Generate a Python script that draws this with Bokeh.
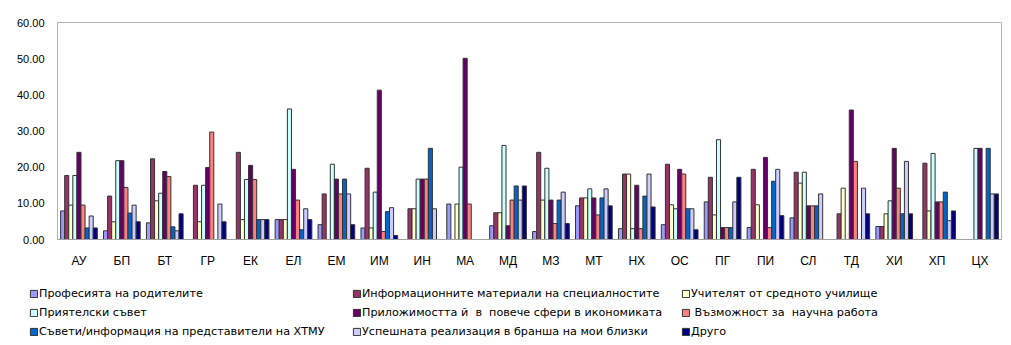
from bokeh.plotting import figure
from bokeh.layouts import column
from bokeh.models import (FactorRange, Range1d, ColumnDataSource, Legend, LegendItem,
                          NumeralTickFormatter, FixedTicker)
from bokeh.transform import dodge
from bokeh.embed import file_html
from bokeh.resources import INLINE

categories = ["АУ", "БП", "БТ", "ГР", "ЕК", "ЕЛ", "ЕМ", "ИМ", "ИН", "МА", "МД",
              "МЗ", "МТ", "НХ", "ОС", "ПГ", "ПИ", "СЛ", "ТД", "ХИ", "ХП", "ЦХ"]

series_names = [
    "Професията на родителите",
    "Информационните материали на специалностите",
    "Учителят от средното училище",
    "Приятелски съвет",
    "Приложимостта й  в  повече сфери в икономиката",
    " Възможност за  научна работа",
    "Съвети/информация на представители на ХТМУ",
    "Успешната реализация в бранша на мои близки",
    "Друго",
]

s_profesia = [7.9, 2.4, 4.6, 0, 0, 5.5, 4.1, 3.2, 0, 9.8, 3.8, 2.2, 9.3, 3.0, 4.1, 10.4, 3.3, 6.0, 0, 3.6, 0, 0]
s_info = [17.7, 12.0, 22.3, 15.0, 24.1, 5.5, 12.6, 19.7, 8.5, 0, 7.4, 24.1, 11.5, 18.1, 20.8, 17.2, 19.4, 18.6, 7.1, 3.6, 21.1, 0]
s_uchitel = [9.5, 4.9, 10.7, 4.9, 5.5, 5.5, 0, 3.2, 8.5, 9.8, 7.4, 10.9, 11.5, 18.1, 9.6, 6.8, 9.6, 15.6, 14.2, 7.1, 7.9, 0]
s_priyatel = [17.7, 21.8, 12.8, 15.0, 16.6, 36.1, 20.8, 13.1, 16.7, 20.0, 26.0, 19.7, 14.0, 3.0, 8.5, 27.6, 0, 18.6, 0, 10.7, 23.8, 25.2]
s_prilozh = [24.1, 21.8, 18.8, 19.9, 20.5, 19.4, 16.7, 41.3, 16.7, 50.1, 3.8, 10.9, 11.5, 15.0, 19.4, 3.3, 22.7, 9.3, 35.8, 25.2, 10.4, 25.2]
s_vazmozh = [9.5, 14.4, 17.4, 29.7, 16.6, 10.9, 12.6, 2.2, 16.7, 9.8, 10.9, 4.4, 6.8, 3.0, 18.1, 3.3, 3.3, 9.3, 21.6, 14.2, 10.4, 0]
s_saveti = [3.2, 7.3, 3.5, 0, 5.5, 2.7, 16.7, 7.7, 25.2, 0, 14.8, 10.9, 11.5, 12.0, 8.5, 3.3, 16.1, 9.3, 0, 7.1, 13.1, 25.2]
s_uspeh = [6.5, 9.5, 2.4, 9.8, 5.5, 8.5, 12.6, 8.8, 8.5, 0, 10.9, 13.1, 14.0, 18.1, 8.5, 10.4, 19.4, 12.6, 14.2, 21.6, 5.2, 12.6]
s_drugo = [3.2, 4.9, 7.1, 4.9, 5.5, 5.5, 4.1, 1.1, 0, 0, 14.8, 4.4, 9.3, 9.0, 2.7, 17.2, 6.6, 0, 7.1, 7.1, 7.9, 12.6]

series_values = [s_profesia, s_info, s_uchitel, s_priyatel, s_prilozh,
                 s_vazmozh, s_saveti, s_uspeh, s_drugo]
colors = ["#9999FF", "#993366", "#FFFFCC", "#CCFFFF", "#660066",
          "#FF8080", "#0066CC", "#CCCCFF", "#000080"]
y_ticks = [0, 10, 20, 30, 40, 50, 60]

FONT = "Liberation Sans"
LEG_FONT = "DejaVu Sans"
EDGE = "#333333"

p = figure(width=1011, height=270,
           x_range=FactorRange(factors=categories, range_padding=0),
           y_range=Range1d(0, 60),
           output_backend="svg", toolbar_location=None,
           min_border_left=57, min_border_right=10,
           min_border_top=22, min_border_bottom=29)

w = 0.095
for i, (vals, col) in enumerate(zip(series_values, colors)):
    xs = [c for c, v in zip(categories, vals) if v > 0]
    ts = [v for v in vals if v > 0]
    src = ColumnDataSource(dict(x=xs, top=ts))
    p.vbar(x=dodge("x", (i - 4) * w, range=p.x_range), top="top", width=w,
           source=src, fill_color=col, line_color=EDGE, line_width=1)

p.grid.grid_line_color = None
p.outline_line_color = "#b3b3b3"

p.xaxis.axis_line_color = "#a0a0a0"
p.xaxis.major_tick_line_color = None
p.xaxis.minor_tick_line_color = None
p.xaxis.major_tick_in = 0
p.xaxis.major_tick_out = 0
p.xaxis.major_label_standoff = 14
p.xaxis.major_label_text_font = FONT
p.xaxis.major_label_text_font_size = "12px"
p.xaxis.major_label_text_color = "black"

p.yaxis.ticker = FixedTicker(ticks=y_ticks)
p.yaxis.formatter = NumeralTickFormatter(format="0.00")
p.yaxis.axis_line_color = None
p.yaxis.major_tick_line_color = None
p.yaxis.minor_tick_line_color = None
p.yaxis.major_tick_in = 0
p.yaxis.major_tick_out = 0
p.yaxis.major_label_standoff = 13
p.yaxis.major_label_text_font = FONT
p.yaxis.major_label_text_font_size = "11px"
p.yaxis.major_label_text_color = "black"

# legend panel below the chart
lf = figure(width=1011, height=75, x_range=Range1d(0, 1), y_range=Range1d(0, 1),
            output_backend="svg", toolbar_location=None,
            x_axis_location=None, y_axis_location=None,
            min_border_left=0, min_border_right=0, min_border_top=0, min_border_bottom=0)
lf.grid.grid_line_color = None
lf.outline_line_color = None
if "frame_align" in lf.properties():
    lf.frame_align = False
if "frame_align" in p.properties():
    p.frame_align = False

leg_renderers = []
for col in colors:
    # one undrawn (NaN) sample so that the legend swatch gets its colours
    r = lf.vbar(x=[0.5], top=[float("nan")], width=0.1,
                fill_color=col, line_color=EDGE, line_width=1)
    leg_renderers.append(r)

items = [LegendItem(label=n, renderers=[r]) for n, r in zip(series_names, leg_renderers)]
col_x = [29, 352, 681]
for c in range(3):
    leg = Legend(items=[items[c], items[c + 3], items[c + 6]],
                 location=(col_x[c], 7), orientation="vertical",
                 border_line_color=None, background_fill_alpha=0,
                 padding=0, margin=0, spacing=5,
                 glyph_width=9, glyph_height=9, label_height=14,
                 label_standoff=1, label_text_font=LEG_FONT,
                 label_text_font_size="11.2px", label_text_color="black")
    lf.add_layout(leg, "center")

layout = column(p, lf, spacing=0)
open("out.html", "w").write(file_html(layout, INLINE))
